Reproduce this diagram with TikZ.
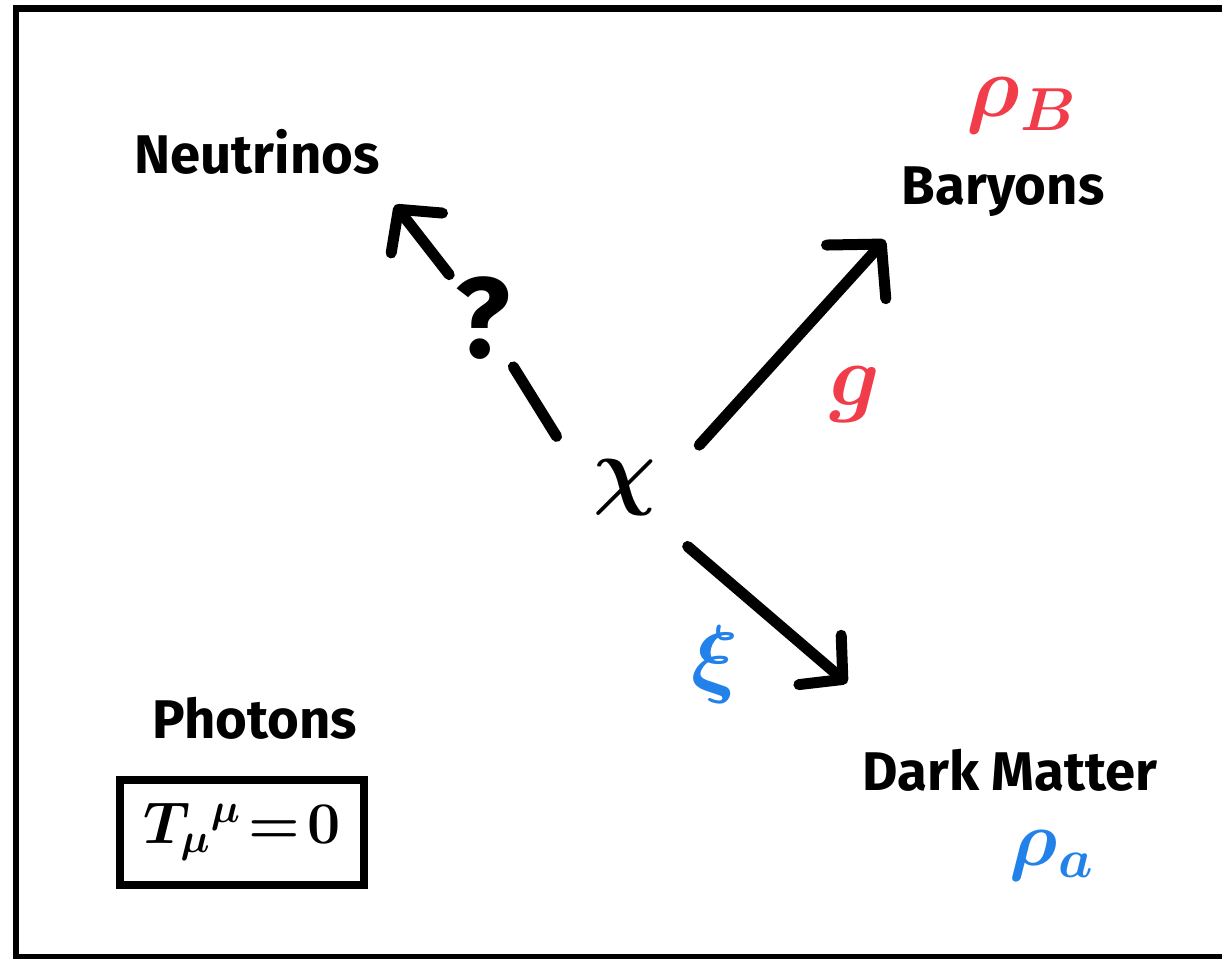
\documentclass[tikz,border=0pt]{standalone}
\usepackage{fontspec}
\setmainfont{Fira Sans}
\usepackage{amsmath}
\usepackage{tikz}
\usetikzlibrary{arrows.meta}
\usepackage{xcolor}
\definecolor{InkRed}{HTML}{F13C4A}
\definecolor{InkBlue}{HTML}{2381EA}
\tikzset{
  word node/.style={font=\fontsize{31}{36}\selectfont\bfseries\boldmath,inner sep=2pt},
  symbol node/.style={font=\fontsize{24}{28}\selectfont\bfseries\boldmath,inner sep=1pt,scale=2},
  trace box/.style={word node,font=\fontsize{24}{28}\selectfont\bfseries\boldmath,draw,
    line width=0.16cm,minimum width=4.9cm,minimum height=2.1cm},
  ink line/.style={line width=0.22cm,line cap=round,draw=black},
  flow arrow/.style={ink line,-{Straight Barb[length=0.6cm,width=1.3cm,round]}}
}
\begin{document}
\begin{tikzpicture}[x=0.02cm,y=-0.02cm]
  \useasboundingbox (0,0) rectangle (1222,958);
  \clip (0,0) rectangle (1222,958);
  \draw[line width=0.14cm] (1260,8) -- (16,8) -- (16,957) -- (1260,957);
  \node[word node] (nu) at (257,152) {Neutrinos};
  \node[word node] (bary) at (1003,192) {Baryons};
  \node[symbol node,text=InkRed] (rhoB) at (1022,106) {$\rho_B$};
  \node[word node] (phot) at (255,718) {Photons};
  \node[trace box] (trace) at (242,832) {\scalebox{1.35}{$T_\mu{}^{\mu}\!=\!0$}};
  \node[word node] (dm) at (1010,770) {Dark Matter};
  \node[symbol node,scale=0.9,text=InkBlue] (rhoa) at (1052,856) {$\rho_a$};
  \node[symbol node,circle,inner sep=0pt,minimum size=1.7cm] (chi) at (625,488) {$\chi$};
  \node[symbol node,text=InkRed] (g) at (855,395) {$g$};
  \node[symbol node,text=InkBlue] (xi) at (715,665) {$\xi$};
  \node[symbol node,scale=1.35] (q) at (483,318) {?};
  \coordinate (tipN) at (395,205);
  \coordinate (tipB) at (885,240);
  \coordinate (tipD) at (847,683);
  \draw[ink line,shorten >=1.15cm] (chi.143) -- (q.center);
  \draw[flow arrow,shorten <=1.1cm] (q.center) -- (tipN);
  \draw[flow arrow,-{Straight Barb[length=0.75cm,width=1.6cm,round]}] (chi.30) -- (tipB);
  \draw[flow arrow] (chi.-43) -- (tipD);
\end{tikzpicture}
\end{document}
